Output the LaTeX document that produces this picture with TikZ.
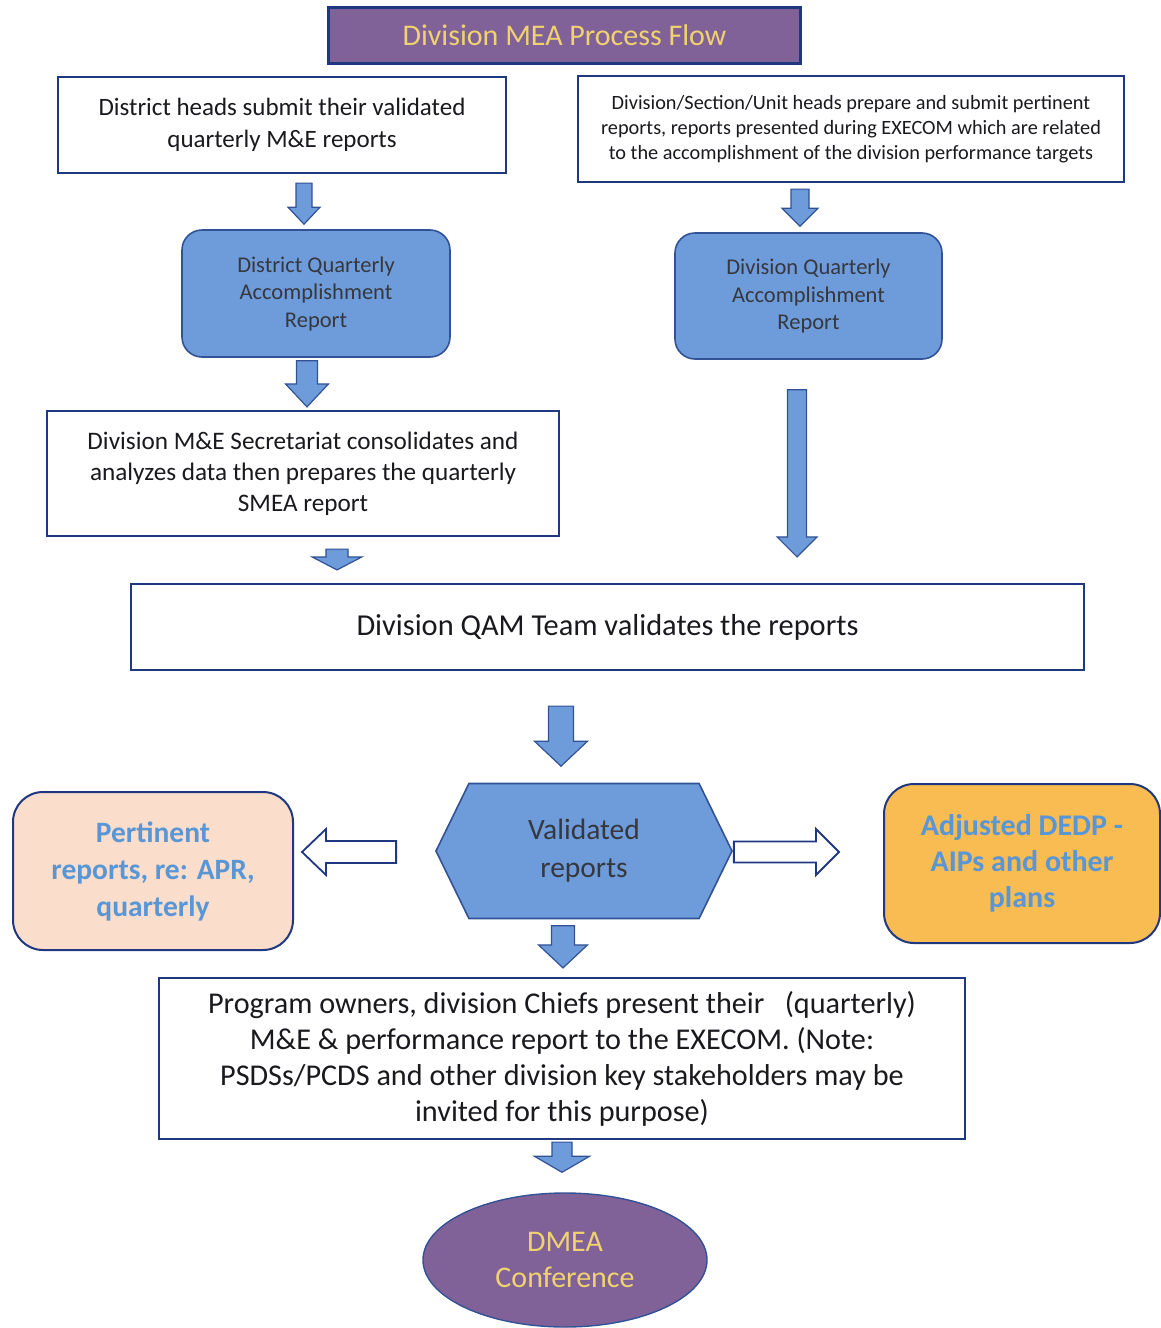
\documentclass[tikz,border=0pt]{standalone}
\usepackage{fontspec}
\setmainfont{Carlito}
\usetikzlibrary{calc,shapes.geometric,shapes.symbols}
\definecolor{mauve}{RGB}{128,98,152}
\definecolor{gold}{RGB}{240,210,110}
\definecolor{cornblue}{RGB}{110,156,218}
\definecolor{shapeline}{RGB}{50,82,150}
\definecolor{boxline}{RGB}{32,56,128}
\definecolor{peach}{RGB}{250,221,203}
\definecolor{amber}{RGB}{248,188,82}
\definecolor{skytext}{RGB}{88,150,214}
\definecolor{inktext}{RGB}{25,25,30}
\definecolor{greytext}{RGB}{55,55,62}

\begin{document}
\begin{tikzpicture}
[x=1pt,y=1pt,
  plainbox/.style={shape=rectangle,draw=boxline,line width=2.2pt,fill=white,
    inner sep=0pt,align=center,text=inktext},%
  titlebox/.style={plainbox,fill=mauve,text=gold},%
  roundbox/.style={shape=rectangle,rounded corners=20pt,draw=shapeline,line width=1.6pt,
    fill=cornblue,inner sep=0pt,align=center,text=greytext},%
  sidebox/.style={shape=rectangle,rounded corners=30pt,draw=boxline,line width=2pt,
    inner sep=0pt,align=center,text=skytext,font=\fontsize{29.5}{37}\selectfont\bfseries},%
  arrowpath/.style n args={3}{to path={
    let \p1=(\tikztostart), \p2=(\tikztotarget),
        \n1={atan2(\y2-\y1,\x2-\x1)}, \n2={veclen(\x2-\x1,\y2-\y1)} in
    ($(\p1)+(\n1+90:#1)$) -- ($(\p1)+(\n1:\n2-#3)+(\n1+90:#1)$)
    -- ($(\p1)+(\n1:\n2-#3)+(\n1+90:#2)$) -- (\p2)
    -- ($(\p1)+(\n1:\n2-#3)+(\n1-90:#2)$) -- ($(\p1)+(\n1:\n2-#3)+(\n1-90:#1)$)
    -- ($(\p1)+(\n1-90:#1)$) -- cycle}},%
  blockarrow/.style={fill=cornblue,draw=shapeline,line width=1.2pt,line join=miter},%
  hollowarrow/.style={fill=white,draw=boxline,line width=1.8pt,line join=miter}]
\useasboundingbox (0,0) rectangle (1161,-1328);
%% boxes
\node (title) at (564.5,-35.5) [titlebox,minimum width=472,minimum height=56,
  font=\fontsize{30}{36}\selectfont] {Division MEA Process Flow};
\node (district) at (282,-125) [plainbox,minimum width=448,minimum height=96,
  font=\fontsize{25}{32}\selectfont] {District heads submit their validated\\quarterly M\&E reports};
\node (heads) at (851,-129) [plainbox,minimum width=546,minimum height=106,
  font=\fontsize{20.3}{25}\selectfont] {Division/Section/Unit heads prepare and submit pertinent\\reports, reports presented during EXECOM which are related\\to the accomplishment of the division performance targets};
\node (dqar) at (316,-293.5) [roundbox,minimum width=268,minimum height=127,
  font=\fontsize{22.5}{27.5}\selectfont] {District Quarterly\\Accomplishment\\Report};
\node (divqar) at (808.5,-296) [roundbox,minimum width=267,minimum height=126,
  font=\fontsize{22.5}{27.5}\selectfont] {Division Quarterly\\Accomplishment\\Report};
\node (secretariat) at (303,-473.5) [plainbox,minimum width=512,minimum height=125,
  font=\fontsize{25.2}{31}\selectfont] {Division M\&E Secretariat consolidates and\\analyzes data then prepares the quarterly\\SMEA report};
\node (qam) at (607.5,-627) [plainbox,minimum width=953,minimum height=86,
  font=\fontsize{30.4}{36}\selectfont] {Division QAM Team validates the reports};
\node (validated) at (584,-851) [shape=signal,signal to=east and west,signal pointer angle=128,
  draw=shapeline,line width=1.6pt,fill=cornblue,inner sep=0pt,minimum width=296,minimum height=135,
  align=center,text=greytext,font=\fontsize{29.5}{38}\selectfont] {Validated\\reports};
\node (pertinent) at (153,-871) [sidebox,fill=peach,minimum width=280,minimum height=158]
  {Pertinent\\reports, re: APR,\\quarterly};
\node (adjusted) at (1022,-863.5) [sidebox,fill=amber,minimum width=276,minimum height=159,
  font=\fontsize{30}{36}\selectfont\bfseries] {Adjusted DEDP -\\AIPs and other\\plans};
\node (owners) at (562,-1058.5) [plainbox,minimum width=806,minimum height=161,
  font=\fontsize{30.2}{36}\selectfont] {Program owners, division Chiefs present their \ \ (quarterly)\\M\&E \& performance report to the EXECOM. (Note:\\PSDSs/PCDS and other division key stakeholders may be\\invited for this purpose)};
\node (dmea) at (565,-1260) [shape=ellipse,draw=shapeline,line width=1.4pt,fill=mauve,inner sep=0pt,
  minimum width=284,minimum height=134,align=center,text=gold,
  font=\fontsize{30}{36}\selectfont] {DMEA\\Conference};
%% block arrows
\foreach \from/\fx/\fy/\to/\tx/\ty/\hw/\hh/\hl in {
  district.south/22/-9/dqar.north/-12/5/8/16/17,
  heads.south/-51/-6/divqar.north/-8.5/6/9/18/18,
  dqar.south/-9/-3/secretariat.north/4/3/10.5/21.5/23,
  divqar.south/-11.5/-30/qam.north/189.5/26/9.5/20/20,
  secretariat.south/34/-12/qam.north/-270.5/13/11/25/13,
  qam.south/-46.5/-35/validated.north/-23/16.5/12.5/26.5/25,
  validated.south/-21/-6.5/owners.north/1/9/11.5/24.5/23,
  owners.south/0/-2/dmea.north/-3/20/10/27.5/16} {
  \draw[blockarrow] ($(\from)+(\fx,\fy)$) to[arrowpath={\hw}{\hh}{\hl}] ($(\to)+(\tx,\ty)$);
}
\foreach \from/\fx/\fy/\to/\tx/\ty/\hw/\hh/\hl in {
  validated.west/-39/-1/pertinent.east/8/19/11/23/24,
  validated.east/1/-1/adjusted.west/-44/11.5/10.5/23/23} {
  \draw[hollowarrow] ($(\from)+(\fx,\fy)$) to[arrowpath={\hw}{\hh}{\hl}] ($(\to)+(\tx,\ty)$);
}
\end{tikzpicture}
\end{document}
